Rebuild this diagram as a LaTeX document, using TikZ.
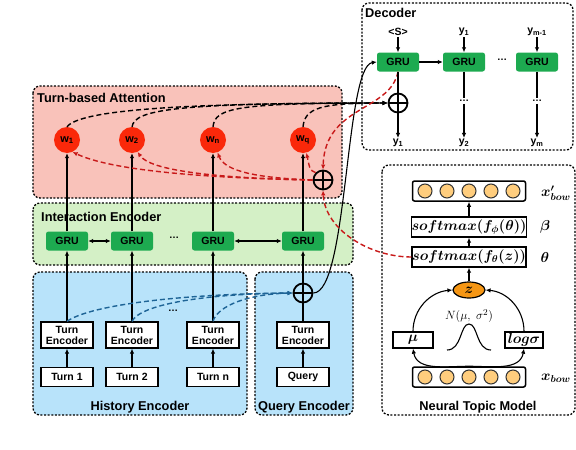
\documentclass[tikz,border=0pt]{standalone}
\usepackage{fontspec}
\setmainfont{Liberation Sans}
\usepackage{amsmath}
\usepackage{bm}
\usetikzlibrary{arrows.meta,shapes.geometric,positioning}

\definecolor{attnpink}{RGB}{249,194,186}
\definecolor{intergreen}{RGB}{212,240,198}
\definecolor{encblue}{RGB}{184,227,250}
\definecolor{grugreen}{RGB}{29,170,80}
\definecolor{wred}{RGB}{250,40,10}
\definecolor{attnred}{RGB}{200,25,25}
\definecolor{histteal}{RGB}{30,100,150}
\definecolor{bowyellow}{RGB}{255,205,125}
\definecolor{zorange}{RGB}{245,150,20}

\begin{document}
\begin{tikzpicture}[x=1pt, y=-1pt, >={Latex[length=5pt,width=4.5pt]},
    panel/.style={line width=1.3pt, dash pattern=on 2pt off 1.6pt, rounded corners=7pt},
    ptitle/.style={font=\fontsize{12.8}{14}\selectfont\bfseries, inner sep=0pt},
    gru/.style={fill=grugreen, rounded corners=2.5pt, minimum width=42pt, minimum height=19pt, inner sep=0pt, font=\fontsize{10.5}{12}\selectfont\bfseries},
    encbox/.style={draw, line width=1.3pt, fill=white, minimum width=52pt, minimum height=26pt, inner sep=0pt, align=center, font=\fontsize{10.5}{11}\selectfont\bfseries},
    turnbox/.style={draw, line width=1.3pt, fill=white, minimum width=52pt, minimum height=19pt, inner sep=0pt, font=\fontsize{10.5}{12}\selectfont\bfseries},
    wnode/.style={circle, fill=wred, minimum size=26pt, inner sep=0pt, font=\fontsize{11}{12}\selectfont\bfseries},
    oplus/.style={circle, draw, line width=1.8pt, minimum size=19pt, inner sep=0pt,
        path picture={\draw[line width=1.8pt] (path picture bounding box.north) -- (path picture bounding box.south)
            (path picture bounding box.west) -- (path picture bounding box.east);}},
    lbl/.style={inner sep=1pt, font=\fontsize{10.5}{12}\selectfont\bfseries},
    dotsep/.style={inner sep=2pt, font=\fontsize{10}{12}\selectfont\bfseries},
    link/.style={line width=1.1pt},
    attnline/.style={line width=1.4pt, dash pattern=on 5pt off 3pt},
    vecbox/.style={draw, line width=1.5pt, rounded corners=2pt, fill=white, minimum width=113pt, minimum height=20pt},
    bowcirc/.style={circle, draw=black!80, fill=bowyellow, line width=1pt, minimum size=14pt, inner sep=0pt},
    formbox/.style={draw, line width=1.4pt, fill=white, minimum width=113pt, minimum height=20pt, inner sep=0pt, font=\fontsize{14.5}{16}\selectfont},
    mathlbl/.style={inner sep=1pt, font=\fontsize{14}{16}\selectfont}
]
\useasboundingbox (0,0) rectangle (576,450);

% panels
\draw[panel, fill=attnpink] (33,86) rectangle (342,198);
\draw[panel, fill=intergreen] (33,203) rectangle (353,265);
\draw[panel, fill=encblue] (33,272) rectangle (247,415);
\draw[panel, fill=encblue] (255,272) rectangle (353,415);
\draw[panel] (362,3) rectangle (573,150);
\draw[panel] (382,165) rectangle (575,415);

\node[ptitle, anchor=west] (attntitle) at (37,98) {Turn-based Attention};
\node[ptitle, anchor=west] (intertitle) at (41,217) {Interaction Encoder};
\node[ptitle] (histtitle) at (140,407) {History Encoder};
\node[ptitle] (querytitle) at (304,407) {Query Encoder};
\node[ptitle, anchor=west] (dectitle) at (365,13) {Decoder};
\node[ptitle] (ntmtitle) at (478,407) {Neural Topic Model};

% history and query encoder
\node[turnbox] (t1) at (67,377) {Turn 1};
\node[turnbox] (t2) at (132,377) {Turn 2};
\node[turnbox] (tn) at (213,377) {Turn n};
\node[turnbox] (tq) at (303,377) {Query};
\node[encbox] (te1) at (67,335) {Turn\\Encoder};
\node[encbox] (te2) at (132,335) {Turn\\Encoder};
\node[encbox] (ten) at (213,335) {Turn\\Encoder};
\node[encbox] (teq) at (303,335) {Turn\\Encoder};
\node[dotsep] (hdots) at (173,311) {\dots};
\node[oplus] (qplus) at (303,293) {};

% interaction encoder
\node[gru] (igru1) at (67,241) {GRU};
\node[gru] (igru2) at (132,241) {GRU};
\node[gru] (igrun) at (213,241) {GRU};
\node[gru] (igruq) at (303,241) {GRU};
\node[dotsep] (idots) at (174,238) {\dots};

% turn-based attention
\node[wnode] (w1) at (67,140) {w\textsubscript{1}};
\node[wnode] (w2) at (132,140) {w\textsubscript{2}};
\node[wnode] (wn) at (213,140) {w\textsubscript{n}};
\node[wnode] (wq) at (303,140) {w\textsubscript{q}};
\node[oplus] (aplus) at (323,180) {};

% decoder
\node[gru] (dgru1) at (398,62) {GRU};
\node[gru] (dgru2) at (464,62) {GRU};
\node[gru] (dgru3) at (537,62) {GRU};
\node[dotsep] (ddots) at (502,60) {\dots};
\node[lbl] (in1) at (398,32) {<S>};
\node[lbl] (in2) at (464,32) {y\textsubscript{1}};
\node[lbl] (in3) at (537,32) {y\textsubscript{m-1}};
\node[oplus] (dplus) at (398,103) {};
\node[dotsep] (odots2) at (464,101) {\dots};
\node[dotsep] (odots3) at (537,101) {\dots};
\node[lbl] (out1) at (398,143) {y\textsubscript{1}};
\node[lbl] (out2) at (464,143) {y\textsubscript{2}};
\node[lbl] (out3) at (537,143) {y\textsubscript{m}};

% neural topic model
\node[vecbox] (xtop) at (469,191) {};
\node[vecbox] (xbow) at (469,377) {};
\foreach \dx in {-44,-22,0,22,44} {
    \node[bowcirc] at ([xshift=\dx pt]xtop.center) {};
    \node[bowcirc] at ([xshift=\dx pt]xbow.center) {};
}
\node[formbox] (beta) at (469,227) {$\bm{softmax(f_{\phi}(\theta))}$};
\node[formbox] (theta) at (469,257) {$\bm{softmax(f_{\theta}(z))}$};
\node[ellipse, draw, line width=1.2pt, fill=zorange, minimum width=32pt, minimum height=16pt, inner sep=0pt, font=\fontsize{14}{16}\selectfont] (z) at (469,290) {$\bm{z}$};
\node[draw, line width=1.3pt, fill=white, minimum width=40pt, minimum height=16pt, inner sep=0pt, font=\fontsize{14}{16}\selectfont] (mu) at (413,340) {$\bm{\mu}$};
\node[draw, line width=1.3pt, fill=white, minimum width=38pt, minimum height=16pt, inner sep=0pt, font=\fontsize{14}{16}\selectfont] (logsig) at (524,340) {$\bm{log\sigma}$};
\node[mathlbl] (xtoplbl) at (556,193) {$\bm{x'_{bow}}$};
\node[mathlbl] (betalbl) at (545,227) {$\bm{\beta}$};
\node[mathlbl] (thetalbl) at (545,257) {$\bm{\theta}$};
\node[mathlbl] (xbowlbl) at (556,378) {$\bm{x_{bow}}$};
\node[inner sep=1pt, font=\fontsize{12.5}{14}\selectfont] (normlbl) at (469,316) {$N(\mu,\ \sigma^2)$};
\draw[link] (447,350) .. controls (462,350) and (460,324) .. (469,324) .. controls (478,324) and (476,350) .. (491,350);

% encoder connectors
\foreach \i in {1,2,n,q}
    \draw[link, ->] (t\i) -- (te\i);
\foreach \i in {1,2,n}
    \draw[link, ->] (te\i) -- (igru\i);
\draw[link] (teq) -- (qplus);
\draw[link, ->] (qplus) -- (igruq);
\draw[link, <->] (igru1) -- (igru2);
\draw[link, <->] (igrun) -- (igruq);
\foreach \i in {1,2,n,q}
    \draw[link, ->] (igru\i) -- (w\i);

% history to query
\draw[attnline, histteal, ->] (te1.north) .. controls (90,305) and (180,294) .. (qplus.west);
\draw[attnline, histteal, ->] (te2.north) .. controls (140,305) and (200,294) .. (qplus.west);
\draw[attnline, histteal, ->] (ten.north) .. controls (218,305) and (250,294) .. (qplus.west);

% query to decoder
\draw[link, ->] (qplus.east) .. controls (348,293) and (345,66) .. (dgru1.west);

% attention weights to decoder
\draw[attnline, ->] (w1.north) .. controls (80,110) and (180,103) .. (dplus.west);
\draw[attnline, ->] (w2.north) .. controls (135,110) and (170,103) .. (dplus.west);
\draw[attnline, ->] (wn.north) .. controls (215,108) and (235,103) .. (dplus.west);
\draw[attnline, ->] (wq.north) .. controls (305,108) and (320,103) .. (dplus.west);

% attention scores
\draw[attnline, attnred, ->] (aplus.west) .. controls (200,178) and (110,170) .. (w1.-65);
\draw[attnline, attnred, ->] (aplus.west) .. controls (210,178) and (150,170) .. (w2.-65);
\draw[attnline, attnred, ->] (aplus.west) .. controls (260,178) and (225,172) .. (wn.-70);
\draw[attnline, attnred, ->] (aplus.north west) .. controls (310,170) .. (wq.-75);
\draw[attnline, attnred, ->] (dgru1.south) .. controls (390,112) and (325,105) .. (aplus.north);
\draw[attnline, attnred, ->] (theta.west) .. controls (370,257) and (325,230) .. (aplus.south);

% decoder connectors
\foreach \i in {1,2,3}
    \draw[link, ->] (in\i) -- (dgru\i);
\draw[link, ->] (dgru1) -- (dgru2);
\draw[link] (dgru1) -- (dplus);
\draw[link, ->] (dplus) -- (out1);
\draw[link] (dgru2) -- (odots2);
\draw[link, ->] (odots2) -- (out2);
\draw[link] (dgru3) -- (odots3);
\draw[link, ->] (odots3) -- (out3);

% topic model connectors
\draw[link, ->] (xbow.north) to[out=180, in=-80] (mu.south);
\draw[link, ->] (xbow.north) to[out=0, in=-100] (logsig.south);
\draw[link, ->] (mu.north) to[out=90, in=185] (z.west);
\draw[link, ->] (logsig.north) to[out=90, in=-5] (z.east);
\draw[link, ->] (z) -- (theta);
\draw[link, ->] (theta) -- (beta);
\draw[link, ->] (beta) -- (xtop);
\end{tikzpicture}
\end{document}
